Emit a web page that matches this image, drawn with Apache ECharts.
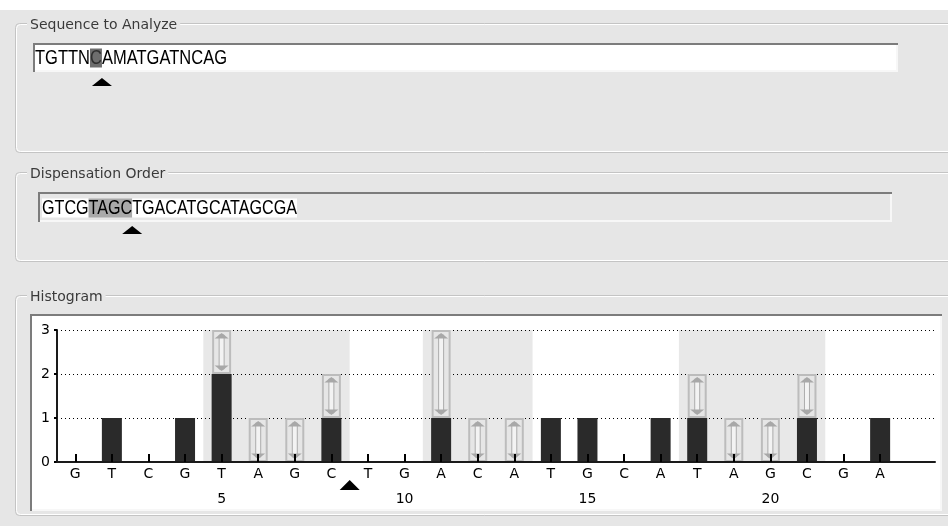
<!DOCTYPE html>
<html><head><meta charset="utf-8">
<script src="https://cdn.jsdelivr.net/npm/echarts@6/dist/echarts.min.js"></script>
<style>html,body{margin:0;padding:0;background:#fff}#c{width:948px;height:526px}</style>
</head><body><div id="c"></div>
<script>
// ---------- data ----------
const dispensationOrder = ['G','T','C','G','T','A','G','C','T','G','A','C','A','T','G','C','A','T','A','G','C','G','A'];
const peakHeights      = [0,1,0,1,2,0,0,1,0,0,1,0,0,1,1,0,1,1,0,0,1,0,1];
const variableHeights  = [0,0,0,0,1,1,1,1,0,0,2,1,1,0,0,0,0,1,1,1,1,0,0];
const variableRegions  = [[5,8],[11,13],[18,21]];   // dispensation numbers (1-based)
const positionLabels   = ['','','','','5','','','','','10','','','','','15','','','','','20','','',''];
const yTickValues      = [0,1,2,3];
const sequenceToAnalyze = 'TGTTNCAMATGATNCAG';
const sequenceCursor    = 5;        // highlighted character index
const dispensationText  = dispensationOrder.join('');
const dispHighlight     = [4, 8];   // highlighted characters [start, end)
const histogramCursor   = 8;        // cursor after the 8th dispensation

const categories = dispensationOrder.concat(['']);
const numLabels = positionLabels.concat(['']);

// ---------- UI chrome helpers ----------
const GRAY = '#e6e6e6';
const ctx = document.createElement('canvas').getContext('2d');
const SEQ_FONT = '20px "Liberation Sans"';
ctx.font = SEQ_FONT;
function w(t){ return ctx.measureText(t).width; }

const seqX = 35, seqY = 58, seqTarget = 192;
const seqScale = seqTarget / w(sequenceToAnalyze);
const dispX = 42, dispY = 208, dispTarget = 255;
const dispScale = dispTarget / w(dispensationText);

function groupBox(x, y, h, title){
  return [
    {type:'rect', z:-10, shape:{x:x+0.5, y:y+0.5, width:1000, height:h, r:4}, style:{fill:null, stroke:'#c4c4c4', lineWidth:1}},
    {type:'rect', z:-10, shape:{x:x+1.5, y:y+1.5, width:1000, height:h-2, r:4}, style:{fill:null, stroke:'#ffffff', lineWidth:1}},
    {type:'text', z:-9, x:x+12, y:y+2, style:{text:title, font:'14px "DejaVu Sans"', fill:'#3a3a3a', backgroundColor:GRAY, padding:[0,3,0,3], align:'left', verticalAlign:'middle', textAlign:'left', textVerticalAlign:'middle'}}
  ];
}
function sunken(x, y, wd, h, fill){
  return [
    {type:'rect', z:-10, shape:{x:x, y:y, width:wd, height:h}, style:{fill:fill}},
    {type:'polyline', z:-9, shape:{points:[[x+1,y+h],[x+1,y+1],[x+wd,y+1]]}, style:{stroke:'#7c7c7c', lineWidth:2, fill:null}},
    {type:'polyline', z:-9, shape:{points:[[x+wd-1,y+2],[x+wd-1,y+h-1],[x+2,y+h-1]]}, style:{stroke:'#f7f7f7', lineWidth:2, fill:null}}
  ];
}

const seqPre = sequenceToAnalyze.slice(0, sequenceCursor);
const seqHl = sequenceToAnalyze.slice(sequenceCursor, sequenceCursor+1);
const seqPost = sequenceToAnalyze.slice(sequenceCursor+1);
const seqTriX = seqX + w(seqPre + seqHl) * seqScale;

const dPre = dispensationText.slice(0, dispHighlight[0]);
const dHl = dispensationText.slice(dispHighlight[0], dispHighlight[1]);
const dPost = dispensationText.slice(dispHighlight[1]);
const dispTriX = dispX + w(dPre + dHl) * dispScale;

const graphics = [
  {type:'rect', z:-11, shape:{x:0, y:10, width:948, height:516}, style:{fill:GRAY}},
  ...groupBox(15, 23, 129, 'Sequence to Analyze'),
  ...sunken(33, 43, 865, 29, '#ffffff'),
  {type:'text', z:-8, x:seqX, y:seqY, scaleX:seqScale, originX:0, originY:0,
    style:{text:'{n|'+seqPre+'}{h|'+seqHl+'}{n|'+seqPost+'}', font:SEQ_FONT, fill:'#000',
      align:'left', verticalAlign:'middle', textAlign:'left', textVerticalAlign:'middle',
      rich:{n:{font:SEQ_FONT, fill:'#000', color:'#000', lineHeight:19, height:19},
            h:{font:SEQ_FONT, fill:'#303030', color:'#303030', backgroundColor:'#6e6e6e', lineHeight:19, height:19}}}},
  {type:'polygon', z:-8, shape:{points:[[seqTriX-10,86],[seqTriX,78],[seqTriX+10,86]]}, style:{fill:'#000'}},

  ...groupBox(15, 172, 89, 'Dispensation Order'),
  ...sunken(38, 192, 854, 30, GRAY),
  {type:'text', z:-8, x:dispX, y:dispY, scaleX:dispScale, originX:0, originY:0,
    style:{text:'{n|'+dPre+'}{h|'+dHl+'}{n|'+dPost+'}', font:SEQ_FONT, fill:'#000',
      align:'left', verticalAlign:'middle', textAlign:'left', textVerticalAlign:'middle',
      rich:{n:{font:SEQ_FONT, fill:'#000', color:'#000', backgroundColor:'#ffffff', lineHeight:19, height:19},
            h:{font:SEQ_FONT, fill:'#000', color:'#000', backgroundColor:'#a9a9a9', lineHeight:19, height:19}}}},
  {type:'polygon', z:-8, shape:{points:[[dispTriX-10,234],[dispTriX,226],[dispTriX+10,234]]}, style:{fill:'#000'}},

  ...groupBox(15, 295, 220, 'Histogram'),
  ...sunken(30, 314, 912, 197, '#ffffff')
];

// ---------- chart ----------
const boxData = peakHeights.map((h, i) => [i, h, h + variableHeights[i]]).filter((d, i) => variableHeights[i] > 0);

const chart = echarts.init(document.getElementById('c'), null, {renderer:'canvas'});
chart.setOption({
  animation: false,
  backgroundColor: '#ffffff',
  graphic: {elements: graphics},
  grid: {left:57, right:13, top:330, bottom:64, containLabel:false, outerBoundsMode:'none'},
  xAxis: [{
    type:'category', data:categories, boundaryGap:true, z:10,
    axisLine:{show:true, lineStyle:{color:'#1a1a1a', width:2}},
    axisTick:{show:true, inside:true, length:8, alignWithLabel:true, lineStyle:{color:'#000', width:2},
      interval:(i) => i < dispensationOrder.length},
    axisLabel:{interval:0, margin:5, fontFamily:'DejaVu Sans', fontSize:14, color:'#000'},
    splitLine:{show:false}
  },{
    type:'category', data:numLabels, position:'bottom', offset:25, boundaryGap:true,
    axisLine:{show:false}, axisTick:{show:false}, splitLine:{show:false},
    axisLabel:{interval:0, margin:5, fontFamily:'DejaVu Sans', fontSize:14, color:'#000'}
  }],
  yAxis: {
    type:'value', min:0, max:3, interval:1,
    axisLine:{show:true, lineStyle:{color:'#1a1a1a', width:2}},
    axisTick:{show:true, length:3, lineStyle:{color:'#000', width:2}},
    axisLabel:{margin:7, fontFamily:'DejaVu Sans', fontSize:14, color:'#000',
      formatter:(v) => yTickValues.indexOf(v) >= 0 ? String(v) : ''},
    splitLine:{show:true, lineStyle:{color:'#000', width:1, type:[1,3]}}
  },
  series: [
    {
      type:'custom', name:'regions', z:-5, data:variableRegions, silent:true,
      renderItem:(params, api) => {
        const r = variableRegions[params.dataIndex];
        const a = api.coord([r[0]-1, 3]);
        const b = api.coord([r[1]-1, 0]);
        const bw = api.size([1, 0])[0];
        return {type:'rect', shape:{x:a[0]-bw/2, y:a[1], width:b[0]-a[0]+bw, height:b[1]-a[1]}, style:{fill:'#e8e8e8'}};
      }
    },
    {
      type:'bar', name:'peaks', data:peakHeights, barWidth:20, z:2,
      itemStyle:{color:'#2a2a2a'}
    },
    {
      type:'custom', name:'variable', z:3, data:boxData, silent:true,
      renderItem:(params, api) => {
        const d = boxData[params.dataIndex];
        const top = api.coord([d[0], d[2]]);
        const bot = api.coord([d[0], d[1]]);
        const cx = top[0], ty = top[1], by = bot[1];
        const bw = 19, x0 = cx - bw/2;
        return {type:'group', children:[
          {type:'rect', shape:{x:x0+1, y:ty+1, width:bw-2, height:by-ty-2}, style:{fill:'#e6e6e6', stroke:'#bcbcbc', lineWidth:2}},
          {type:'rect', shape:{x:cx-2.5, y:ty+5, width:5, height:by-ty-10}, style:{fill:'#f3f3f3', stroke:'#ababab', lineWidth:1}},
          {type:'polygon', shape:{points:[[cx-7,ty+8.5],[cx,ty+3],[cx+7,ty+8.5]]}, style:{fill:'#a8a8a8'}},
          {type:'polygon', shape:{points:[[cx-7,by-8.5],[cx,by-3],[cx+7,by-8.5]]}, style:{fill:'#a8a8a8'}}
        ]};
      }
    },
    {
      type:'custom', name:'cursor', z:4, data:[[histogramCursor]], silent:true, clip:false,
      renderItem:(params, api) => {
        const a = api.coord([histogramCursor-1, 0]);
        const b = api.coord([histogramCursor, 0]);
        const cx = (a[0]+b[0])/2, y = a[1];
        return {type:'polygon', shape:{points:[[cx-10,y+28],[cx,y+18],[cx+10,y+28]]}, style:{fill:'#000'}};
      }
    }
  ]
});
</script></body></html>
